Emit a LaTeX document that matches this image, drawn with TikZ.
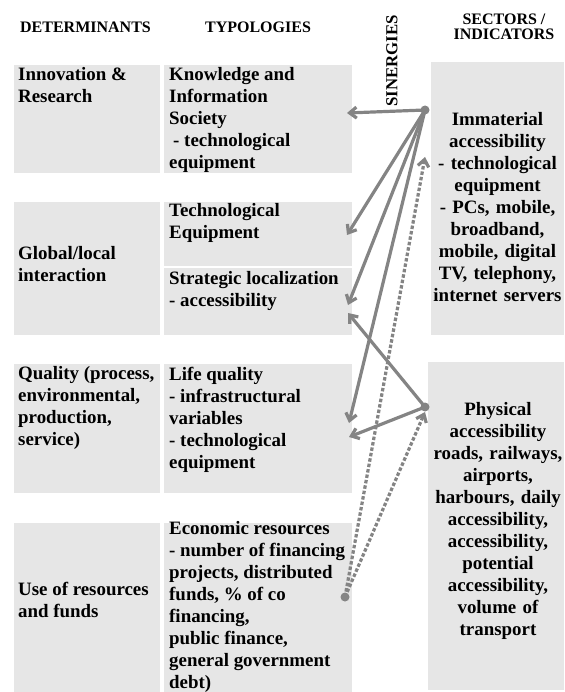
\documentclass[tikz,border=0pt]{standalone}
\usepackage{fontspec}
\setmainfont{Liberation Serif}
\usetikzlibrary{arrows.meta}
\definecolor{boxgray}{RGB}{230,230,230}
\definecolor{linkgray}{RGB}{132,132,132}
\begin{document}
\begin{tikzpicture}[x=1pt,y=-1pt,
  panel/.style={fill=boxgray, draw=none, inner sep=0pt, anchor=north west},
  cell/.style={anchor=north west, inner sep=0pt, align=left,
    font=\fontsize{18.9}{22}\selectfont\bfseries, execute at begin node=\strut},
  ccell/.style={anchor=north, inner sep=0pt, align=center, text width=136pt,
    font=\fontsize{18.9}{22}\selectfont\bfseries, execute at begin node=\strut},
  head/.style={anchor=base, inner sep=0pt, font=\fontsize{16}{15}\selectfont\bfseries},
  hub/.style={circle, fill=linkgray, inner sep=0pt, minimum size=9pt},
  link/.style={draw=linkgray, line width=3.2pt, line cap=round,
    -{Straight Barb[length=7pt,width=11pt,line join=miter]}},
  dashlink/.style={draw=linkgray, line width=3.2pt, dash pattern=on 3.5pt off 2pt,
    -{Straight Barb[length=7pt,width=11pt,line join=miter]}}
]
\useasboundingbox (0,0) rectangle (564,692);

% column headings
\node[head] (hDet) at (85.5,33) {DETERMINANTS};
\node[head] (hTyp) at (258,33) {TYPOLOGIES};
\node[head] (hSec) at (504,25) {SECTORS /};
\node[head] (hInd) at (504,40) {INDICATORS};
\node[head, anchor=center, rotate=90, font=\fontsize{16.8}{15}\selectfont\bfseries] (hSin) at (392,61) {SINERGIES};

% grey panels: determinants
\node[panel, minimum width=146pt, minimum height=108pt] (detA) at (14,65) {};
\node[panel, minimum width=146pt, minimum height=133pt] (detB) at (14,202) {};
\node[panel, minimum width=146pt, minimum height=129pt] (detC) at (14,364) {};
\node[panel, minimum width=146pt, minimum height=169pt] (detD) at (14,523) {};
% typologies
\node[panel, minimum width=188pt, minimum height=108pt] (typA) at (164,65) {};
\node[panel, minimum width=188pt, minimum height=63.5pt] (typB) at (164,202) {};
\node[panel, minimum width=188pt, minimum height=67.5pt] (typC) at (164,267.5) {};
\node[panel, minimum width=188pt, minimum height=129pt] (typD) at (164,364) {};
\node[panel, minimum width=188pt, minimum height=169pt] (typE) at (164,523) {};
% sectors / indicators
\node[panel, minimum width=133pt, minimum height=273pt] (secA) at (431,62) {};
\node[panel, minimum width=136pt, minimum height=328pt] (secB) at (428,362) {};

% texts
\node[cell] (tDetA) at (18,67.6) {Innovation \&\\Research};
\node[cell] (tDetB) at (18,246.6) {Global/local\\interaction};
\node[cell] (tDetC) at (18,366.6) {Quality (process,\\environmental,\\production,\\service)};
\node[cell] (tDetD) at (18,581.6) {Use of resources\\and funds};

\node[cell] (tTypA) at (169,67.6) {Knowledge and\\Information\\Society\\\hspace*{4pt}- technological\\equipment};
\node[cell] (tTypB) at (169,203.6) {Technological\\Equipment};
\node[cell] (tTypC) at (169,271.6) {Strategic localization\\- accessibility};
\node[cell] (tTypD) at (169,366.6) {Life quality\\- infrastructural\\variables\\- technological\\equipment};
\node[cell] (tTypE) at (169,521.6) {Economic resources\\- number of financing\\projects, distributed\\funds, \% of co\\financing,\\public finance,\\general government\\debt)};

\node[ccell] (tSecA) at (497.5,109.6) {Immaterial\\accessibility\\- technological\\equipment\\- PCs, mobile,\\broadband,\\mobile, digital\\TV, telephony,\\internet servers};
\node[ccell] (tSecB) at (498,399.6) {Physical\\accessibility\\roads, railways,\\airports,\\harbours, daily\\accessibility,\\accessibility,\\potential\\accessibility,\\volume of\\transport};

% synergy hubs
\node[hub] (hubA) at (425,110) {};
\node[hub] (hubB) at (425,407) {};
\node[hub] (hubC) at (345,597) {};

% arrow ends
\coordinate (endA1) at (347,113);
\coordinate (endA2) at (347,235);
\coordinate (endA3) at (348,305);
\coordinate (endA4) at (349,423);
\coordinate (endB1) at (348,313);
\coordinate (endB2) at (349,437);
\coordinate (endC1) at (425,157);
\coordinate (endC2) at (425,412);

% synergy links
\draw[link] (hubA.center) -- (endA1);
\draw[link] (hubA.center) -- (endA2);
\draw[link] (hubA.center) -- (endA3);
\draw[link] (hubA.center) -- (endA4);
\draw[link] (hubB.center) -- (endB1);
\draw[link] (hubB.center) -- (endB2);
\draw[dashlink] (hubC.center) -- (endC1);
\draw[dashlink] (hubC.center) -- (endC2);
\end{tikzpicture}
\end{document}
